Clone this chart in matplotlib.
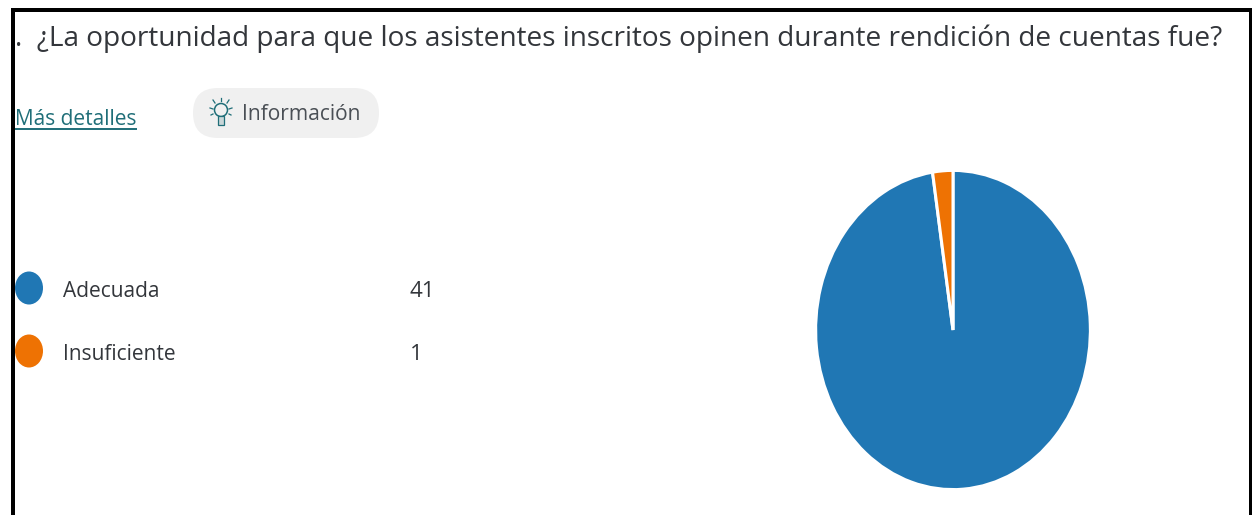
import matplotlib
matplotlib.use("Agg")
import matplotlib.pyplot as plt
from matplotlib.patches import Ellipse, FancyBboxPatch, Rectangle, Circle

title = ".  ¿La oportunidad para que los asistentes inscritos opinen durante rendición de cuentas fue?"
categories = ["Adecuada", "Insuficiente"]
values = [41, 1]
colors = ["#2077B4", "#EE7203"]
W, H = 1254, 515
plt.rcParams["font.family"] = ["Open Sans", "DejaVu Sans"]

fig = plt.figure(figsize=(W / 100, H / 100), dpi=100, facecolor="white")
bg = fig.add_axes([0, 0, 1, 1])
bg.set_xlim(0, W)
bg.set_ylim(H, 0)
bg.axis("off")

# frame
bg.add_patch(Rectangle((11, 8), 1241, 3.5, color="black", lw=0))
bg.add_patch(Rectangle((11, 8), 3.5, H - 8, color="black", lw=0))
bg.add_patch(Rectangle((1248.5, 8), 3.5, H - 8, color="black", lw=0))

ink = "#33363b"
bg.text(15, 46, title, fontsize=20.15, color=ink, va="baseline", ha="left")

teal = "#1f6e78"
bg.text(15, 125, "Más detalles", fontsize=15, color=teal, va="baseline", ha="left")
bg.plot([15, 137], [128.5, 128.5], color=teal, lw=1.4, solid_capstyle="butt")

bg.add_patch(FancyBboxPatch((193, 88), 186, 50, boxstyle="round,pad=0,rounding_size=25",
                            fc="#f0f0f0", ec="none"))
# bulb icon
bg.add_patch(Circle((221, 110), 6.5, fc="none", ec=teal, lw=1.1))
bg.add_patch(Rectangle((218, 116), 6, 9, fc="#c9d6d8", ec=teal, lw=0.9))
for x0, y0, x1, y1 in [(221, 98, 221, 101), (213, 100, 215, 103), (229, 100, 227, 103),
                       (210, 108, 213, 109), (229, 109, 232, 108), (211, 115, 213, 114),
                       (229, 114, 231, 115)]:
    bg.plot([x0, x1], [y0, y1], color=teal, lw=0.9)
bg.text(242, 120, "Información", fontsize=15.1, color="#4a4f55", va="baseline", ha="left")

# legend
for y, base, cat, val, col in zip([288, 351], [297, 360], categories, values, colors):
    bg.add_patch(Ellipse((29, y), 28, 33, fc=col, ec="none"))
    bg.text(63, base, cat, fontsize=15, color=ink, va="baseline", ha="left")
    bg.text(410, base, str(val), fontsize=16, color=ink, va="baseline", ha="left")

# pie
x0, x1, y0, y1 = 817, 1089, 172, 488
ax = fig.add_axes([x0 / W, 1 - y1 / H, (x1 - x0) / W, (y1 - y0) / H])
ax.pie(values, colors=colors, startangle=90, counterclock=False, radius=1.0,
       wedgeprops=dict(edgecolor="white", linewidth=2.2))
ax.set_aspect("auto")
ax.set_xlim(-0.99, 0.99)
ax.set_ylim(-0.99, 0.99)

fig.savefig("out.png", dpi=100)
